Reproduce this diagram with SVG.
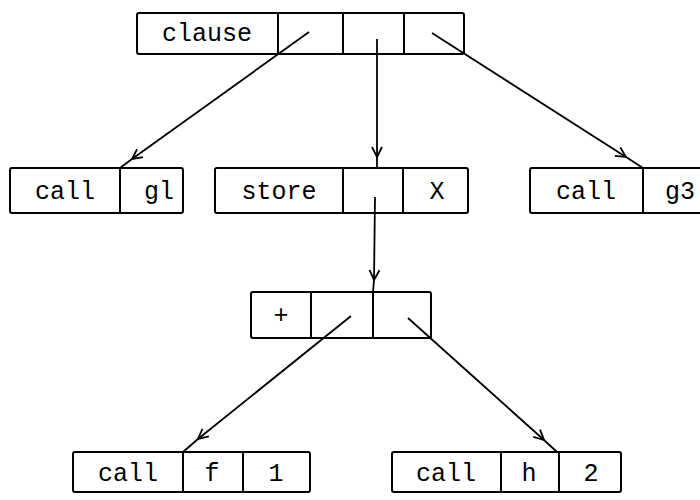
<svg xmlns="http://www.w3.org/2000/svg" width="700" height="500" viewBox="0 0 700 500">
<defs>
<style>
.box{fill:none;stroke:#000;stroke-width:2}
.div{stroke:#000;stroke-width:2}
.t{font-family:"Liberation Mono","DejaVu Sans Mono",monospace;font-size:25px;fill:#000;text-anchor:middle}
.c{fill:none;stroke:#000;stroke-width:1.8;marker-mid:url(#ah)}
</style>
<marker id="ah" viewBox="-12 -7 14 14" markerWidth="14" markerHeight="14" refX="0" refY="0" orient="auto" markerUnits="userSpaceOnUse">
<path d="M-10,-5 L0,0 L-10,5" fill="none" stroke="#000" stroke-width="1.8"/>
</marker>
</defs>
<rect width="700" height="500" fill="#fff"/>
<g id="clause">
<rect class="box" x="137" y="13" width="327" height="41" rx="2"/>
<line class="div" x1="278" y1="13" x2="278" y2="54"/>
<line class="div" x1="343" y1="13" x2="343" y2="54"/>
<line class="div" x1="404" y1="13" x2="404" y2="54"/>
<text class="t" x="207" y="41">clause</text>
</g>
<g id="call_g1">
<rect class="box" x="10" y="168" width="173" height="45" rx="2"/>
<line class="div" x1="120" y1="168" x2="120" y2="213"/>
<text class="t" x="65" y="199">call</text>
<text class="t" x="159" y="199">gl</text>
</g>
<g id="store">
<rect class="box" x="215" y="168" width="253" height="45" rx="2"/>
<line class="div" x1="343" y1="168" x2="343" y2="213"/>
<line class="div" x1="403" y1="168" x2="403" y2="213"/>
<text class="t" x="279" y="199">store</text>
<text class="t" x="437" y="199">X</text>
</g>
<g id="call_g3">
<rect class="box" x="530" y="168" width="180" height="45" rx="2"/>
<line class="div" x1="643" y1="168" x2="643" y2="213"/>
<text class="t" x="586" y="199">call</text>
<text class="t" x="680" y="199">g3</text>
</g>
<g id="plus">
<rect class="box" x="251" y="292" width="180" height="46" rx="2"/>
<line class="div" x1="311" y1="292" x2="311" y2="338"/>
<line class="div" x1="373" y1="292" x2="373" y2="338"/>
<text class="t" x="281" y="323">+</text>
</g>
<g id="call_f_1">
<rect class="box" x="73" y="452" width="237" height="40" rx="2"/>
<line class="div" x1="183" y1="452" x2="183" y2="492"/>
<line class="div" x1="243" y1="452" x2="243" y2="492"/>
<text class="t" x="128" y="481">call</text>
<text class="t" x="212" y="481">f</text>
<text class="t" x="276" y="481">1</text>
</g>
<g id="call_h_2">
<rect class="box" x="392" y="452" width="229" height="40" rx="2"/>
<line class="div" x1="501" y1="452" x2="501" y2="492"/>
<line class="div" x1="559" y1="452" x2="559" y2="492"/>
<text class="t" x="446" y="481">call</text>
<text class="t" x="529" y="481">h</text>
<text class="t" x="591" y="481">2</text>
</g>
<g id="connectors">
<path class="c" d="M309,32 L132,159 L120,168"/>
<path class="c" d="M377,39 L377,157 L377,168"/>
<path class="c" d="M432,33 L626,157 L643,168"/>
<path class="c" d="M375,197 L374,280 L373,292"/>
<path class="c" d="M351,316 L198,439 L183,452"/>
<path class="c" d="M408,318 L544,440 L557,452"/>
</g>
</svg>
